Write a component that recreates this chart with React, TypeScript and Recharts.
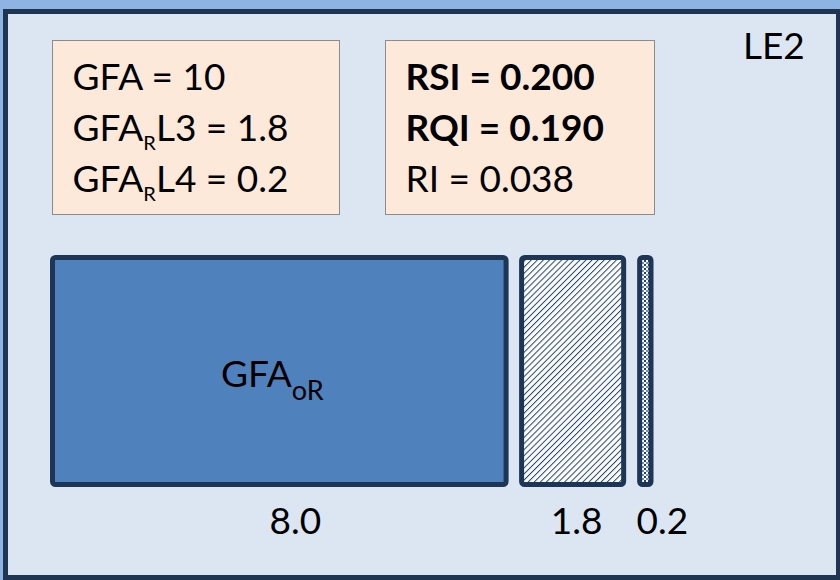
import { BarChart, Bar, XAxis, YAxis, LabelList } from 'recharts';

const categories = ['LE2'];
const gfaOR = [8.0];
const gfaRL3 = [1.8];
const gfaRL4 = [0.2];
const leftLines = [
  { base: 'GFA', sub: '', rest: ' = 10', bold: false },
  { base: 'GFA', sub: 'R', rest: 'L3 = 1.8', bold: false },
  { base: 'GFA', sub: 'R', rest: 'L4 = 0.2', bold: false },
];
const rightLines = [
  { base: 'RSI = 0.200', sub: '', rest: '', bold: true },
  { base: 'RQI = 0.190', sub: '', rest: '', bold: true },
  { base: 'RI = 0.038', sub: '', rest: '', bold: false },
];

const data = categories.map((name, i) => ({
  name,
  gfaOR: gfaOR[i],
  gfaRL3: gfaRL3[i],
  gfaRL4: gfaRL4[i],
}));

const FONT = 'Lato, "Noto Sans", sans-serif';
const EDGE = '#1E3655';

// each segment is pushed right a little so the three blocks stand apart
const makeShape = (shift: number, fill: string, title?: boolean) => (props: any) => {
  const { x, y, width, height } = props;
  const sx = x + shift;
  return (
    <g>
      <rect x={sx} y={y} width={width} height={height} rx={3} fill={fill} stroke={EDGE} strokeWidth={5} />
      {title && (
        <text x={sx + width / 2 - 7} y={y + height / 2 + 16} textAnchor="middle" fontFamily={FONT} fontSize={37} fill="#000">
          GFA
          <tspan fontSize={27} dy={13}>oR</tspan>
        </text>
      )}
    </g>
  );
};

const makeLabel = (shift: number) => (props: any) => {
  const vb = props.viewBox || props;
  const x = vb.x ?? props.x;
  const w = vb.width ?? props.width;
  const y = vb.y ?? props.y;
  const h = vb.height ?? props.height;
  return (
    <text x={x + w / 2 + shift} y={y + h + 49.5} textAnchor="middle" fontFamily={FONT} fontSize={37} fill="#000">
      {Number(props.value).toFixed(1)}
    </text>
  );
};

function TextBox({ left, width, lines }: { left: number; width: number; lines: typeof leftLines }) {
  return (
    <div
      style={{
        position: 'absolute',
        left,
        top: 40,
        width,
        height: 175,
        boxSizing: 'border-box',
        border: '1.5px solid #8C8C8C',
        background: '#FDE9D9',
        paddingLeft: 19.5,
        paddingTop: 8.5,
        fontFamily: FONT,
        fontSize: 37,
        lineHeight: '51px',
        color: '#000',
      }}
    >
      {lines.map((l, i) => (
        <div key={i} style={{ fontWeight: l.bold ? 700 : 400, whiteSpace: 'nowrap' }}>
          {l.base}
          {l.sub && (
            <span style={{ fontSize: 20, position: 'relative', top: 9, lineHeight: 0 }}>{l.sub}</span>
          )}
          {l.rest}
        </div>
      ))}
    </div>
  );
}

export default function App() {
  return (
    <div style={{ position: 'fixed', left: 0, top: 0, width: 840, height: 580, background: '#8EB4E3', overflow: 'hidden' }}>
      <svg width={840} height={580} style={{ position: 'absolute', left: 0, top: 0 }}>
        <rect x={5.5} y={11.5} width={833} height={566} fill="#DCE6F2" stroke="#1F3552" strokeWidth={5} />
      </svg>
      <div style={{ position: 'absolute', left: 0, top: 0 }}>
        <BarChart
          width={840}
          height={580}
          data={data}
          layout="vertical"
          barCategoryGap={0}
          margin={{ top: 257.5, right: 220.5, bottom: 95.5, left: 52.5 }}
        >
          <defs>
            <pattern id="hatch" patternUnits="userSpaceOnUse" width={4.3} height={4.3} patternTransform="rotate(45)">
              <rect width={4.3} height={4.3} fill="#fff" />
              <line x1={0} y1={0} x2={0} y2={4.3} stroke="#1F4278" strokeWidth={2} />
            </pattern>
            <pattern id="dots" patternUnits="userSpaceOnUse" width={4} height={4}>
              <rect width={4} height={4} fill="#fff" />
              <rect width={2} height={2} fill="#1F4278" />
              <rect x={2} y={2} width={2} height={2} fill="#6F8FC0" />
            </pattern>
          </defs>
          <XAxis type="number" domain={[0, 10]} hide />
          <YAxis type="category" dataKey="name" hide />
          <Bar dataKey="gfaOR" stackId="a" isAnimationActive={false} shape={makeShape(0, '#4F81BD', true)}>
            <LabelList dataKey="gfaOR" content={makeLabel(16)} />
          </Bar>
          <Bar dataKey="gfaRL3" stackId="a" isAnimationActive={false} shape={makeShape(15.5, 'url(#hatch)')}>
            <LabelList dataKey="gfaRL3" content={makeLabel(15.5 + 4)} />
          </Bar>
          <Bar dataKey="gfaRL4" stackId="a" isAnimationActive={false} shape={makeShape(31.5, 'url(#dots)')}>
            <LabelList dataKey="gfaRL4" content={makeLabel(31.5 + 17)} />
          </Bar>
        </BarChart>
      </div>
      <TextBox left={52} width={288} lines={leftLines} />
      <TextBox left={385} width={270} lines={rightLines} />
      <div style={{ position: 'absolute', left: 743, top: 19, fontFamily: FONT, fontSize: 37, lineHeight: '51px', color: '#000' }}>
        {categories[0]}
      </div>
    </div>
  );
}
